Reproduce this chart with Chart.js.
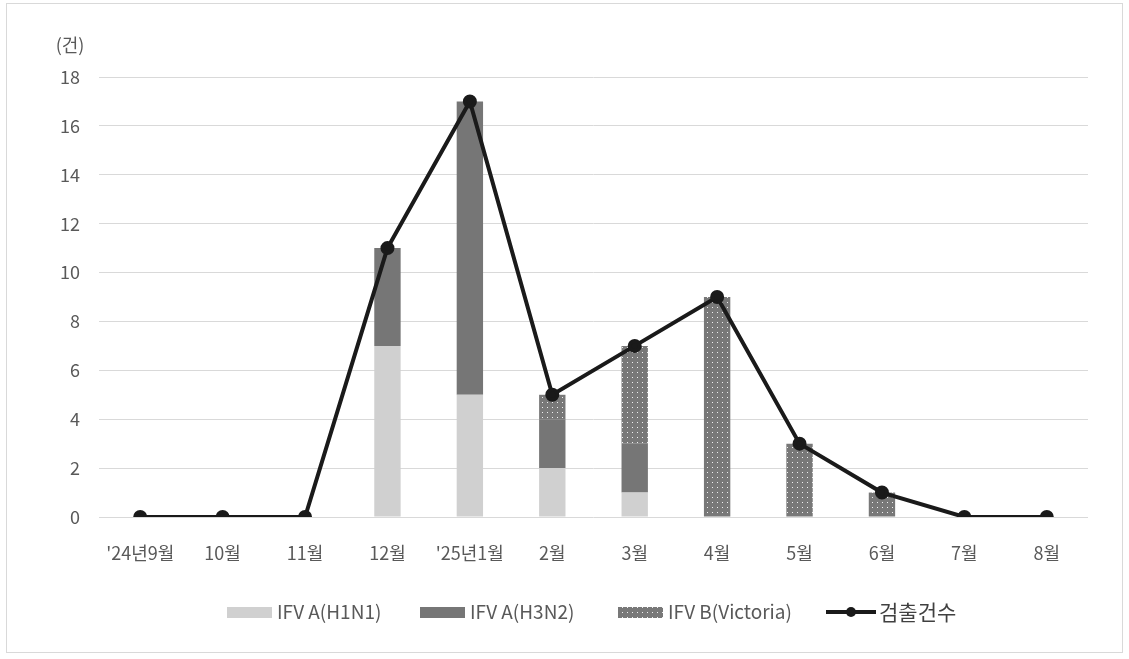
<!DOCTYPE html>
<html>
<head>
<meta charset="utf-8">
<script src="https://cdn.jsdelivr.net/npm/chart.js@4"></script>
<style>
  body { margin: 0; background: #fff; }
  #wrap { position: relative; width: 1129px; height: 659px; }
  #frame { position: absolute; left: 6px; top: 3px; width: 1117px; height: 650px; border: 1px solid #d9d9d9; box-sizing: border-box; pointer-events: none; }
</style>
</head>
<body>
<div id="wrap">
  <canvas id="myChart" width="1129" height="659"></canvas>
  <div id="frame"></div>
</div>
<script>
const months = ["'24년9월", '10월', '11월', '12월', "'25년1월", '2월', '3월', '4월', '5월', '6월', '7월', '8월'];
const h1n1 = [0, 0, 0, 7, 5, 2, 1, 0, 0, 0, 0, 0];
const h3n2 = [0, 0, 0, 4, 12, 2, 2, 0, 0, 0, 0, 0];
const victoria = [0, 0, 0, 0, 0, 1, 4, 9, 3, 1, 0, 0];
const total = [0, 0, 0, 11, 17, 5, 7, 9, 3, 1, 0, 0];
const yTicks = [0, 2, 4, 6, 8, 10, 12, 14, 16, 18];

const fontKr = "'Noto Sans CJK KR', 'Noto Sans', sans-serif";

// dotted fill for IFV B
function dotPattern() {
    let c = document.createElement('canvas');
    c.width = 5; c.height = 5;
    let g = c.getContext('2d');
    g.fillStyle = '#787878';
    g.fillRect(0, 0, 5, 5);
    g.fillStyle = '#f0f0f0';
    g.fillRect(2, 2, 1, 1);
    return g.createPattern(c, 'repeat');
}
let dots = dotPattern();

// legend + unit label
const extras = {
    id: 'extras',
    afterDraw(chart) {
        let ctx = chart.ctx;
        ctx.save();
        ctx.fillStyle = '#595959';
        ctx.font = '18px ' + fontKr;
        ctx.textAlign = 'center';
        ctx.textBaseline = 'middle';
        ctx.fillText('(건)', 70, 45);

        let y = 612;
        let items = [
            { x: 227, fill: '#d0d0d0', text: 'IFV A(H1N1)' },
            { x: 420, fill: '#767676', text: 'IFV A(H3N2)' },
            { x: 618, fill: dots, text: 'IFV B(Victoria)' }
        ];
        ctx.textAlign = 'left';
        ctx.font = '19px ' + fontKr;
        items.forEach(it => {
            ctx.fillStyle = it.fill;
            ctx.fillRect(it.x, y - 5, 45, 11);
            ctx.fillStyle = '#595959';
            ctx.fillText(it.text, it.x + 50, y);
        });
        // line item
        ctx.strokeStyle = '#1a1a1a';
        ctx.lineWidth = 4;
        ctx.beginPath();
        ctx.moveTo(826, y);
        ctx.lineTo(876, y);
        ctx.stroke();
        ctx.fillStyle = '#1a1a1a';
        ctx.beginPath();
        ctx.arc(851, y, 5, 0, Math.PI * 2);
        ctx.fill();
        ctx.fillStyle = '#404040';
        ctx.font = '21px ' + fontKr;
        ctx.fillText('검출건수', 879, y);
        ctx.restore();
    }
};

let diagramma = document.getElementById('myChart').getContext('2d');
let myChart = new Chart(diagramma, {
    data: {
        labels: months,
        datasets: [{
            type: 'line',
            label: '검출건수',
            data: total,
            borderColor: '#1a1a1a',
            backgroundColor: '#1a1a1a',
            borderWidth: 4,
            pointRadius: 5,
            tension: 0,
            order: 0
        }, {
            type: 'bar',
            label: 'IFV A(H1N1)',
            data: h1n1,
            backgroundColor: '#d0d0d0',
            stack: 's',
            order: 1
        }, {
            type: 'bar',
            label: 'IFV A(H3N2)',
            data: h3n2,
            backgroundColor: '#767676',
            stack: 's',
            order: 1
        }, {
            type: 'bar',
            label: 'IFV B(Victoria)',
            data: victoria,
            backgroundColor: dots,
            stack: 's',
            order: 1
        }]
    },
    plugins: [extras],
    options: {
        responsive: false,
        animation: false,
        layout: {
            padding: { left: 0, right: 41, top: 77, bottom: 0 }
        },
        plugins: {
            legend: false,
            tooltip: { enabled: false }
        },
        datasets: {
            bar: { categoryPercentage: 1, barPercentage: 0.32 }
        },
        scales: {
            x: {
                stacked: true,
                grid: { display: false },
                border: { display: false },
                ticks: {
                    color: '#595959',
                    font: { size: 18, family: fontKr },
                    padding: 17,
                    maxRotation: 0,
                    autoSkip: false
                },
                afterFit: (axis) => { axis.height = 142; }
            },
            y: {
                stacked: true,
                min: 0,
                max: 18,
                afterBuildTicks: (axis) => { axis.ticks = yTicks.map(v => ({ value: v })); },
                grid: { color: '#d9d9d9', lineWidth: 1, drawTicks: false },
                border: { display: false },
                ticks: {
                    color: '#595959',
                    font: { size: 18, family: fontKr },
                    padding: 19
                },
                afterFit: (axis) => { axis.width = 99; }
            }
        }
    }
});
</script>
</body>
</html>
